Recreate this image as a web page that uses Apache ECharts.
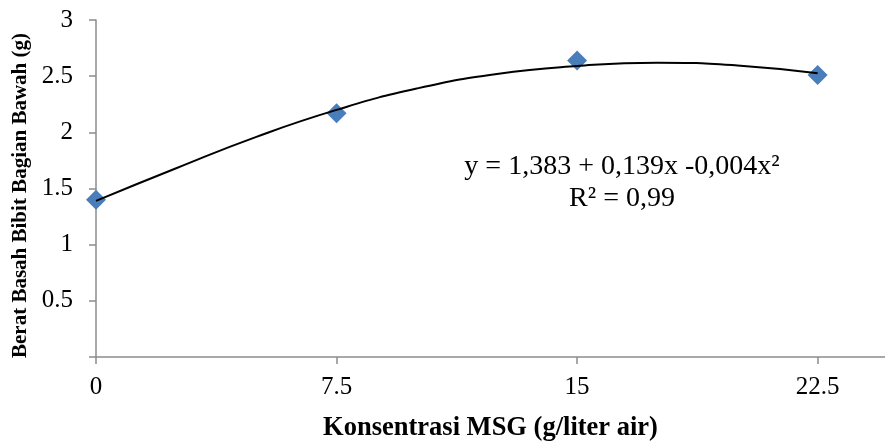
<!DOCTYPE html>
<html>
<head>
<meta charset="utf-8">
<script src="https://cdn.jsdelivr.net/npm/echarts@6/dist/echarts.min.js"></script>
<style>
  html, body { margin: 0; padding: 0; background: #fff; }
  #chart { width: 885px; height: 441px; }
</style>
</head>
<body>
<div id="chart"></div>
<script>
(function () {
    // observed data
    const konsentrasi = [0, 7.5, 15, 22.5];
    const beratBasah = [1.40, 2.17, 2.64, 2.51];

    // trendline
    const trendX = [0, 2.5, 5, 7.5, 10, 12.5, 15, 17.5, 20, 22.5];
    const trendY = [1.39, 1.68, 1.96, 2.20, 2.39, 2.52, 2.59, 2.62, 2.595, 2.525];

    const persamaan = 'y = 1,383 + 0,139x -0,004x²';
    const rKuadrat = 'R² = 0,99';

    const font = "'Liberation Serif', 'Times New Roman', serif";
    const axisGray = '#8c8c8c';

    let myChart = echarts.init(document.getElementById('chart'));

    let option = {
        animation: false,
        backgroundColor: '#fff',
        grid: { left: 96, right: 0, top: 20, bottom: 84, outerBoundsMode: 'none', containLabel: false },
        xAxis: {
            type: 'value',
            min: 0,
            max: 24.6,
            interval: 7.5,
            name: 'Konsentrasi MSG (g/liter air)',
            nameLocation: 'middle',
            nameGap: 58,
            nameTextStyle: { fontFamily: font, fontSize: 26.5, fontWeight: 'bold', color: '#000' },
            axisLine: { lineStyle: { color: axisGray, width: 1.5 } },
            axisTick: { show: true, length: 7, lineStyle: { color: axisGray, width: 1.5 } },
            axisLabel: { fontFamily: font, fontSize: 25, color: '#000', margin: 18, showMaxLabel: false },
            splitLine: { show: false }
        },
        yAxis: {
            type: 'value',
            min: 0,
            max: 3,
            interval: 0.5,
            name: 'Berat Basah Bibit Bagian Bawah (g)',
            nameLocation: 'middle',
            nameGap: 64,
            nameTextStyle: { fontFamily: font, fontSize: 21, fontWeight: 'bold', color: '#000', padding: [0, 14, 0, 0] },
            axisLine: { show: true, lineStyle: { color: axisGray, width: 1.5 } },
            axisTick: { show: true, length: 7, lineStyle: { color: axisGray, width: 1.5 } },
            axisLabel: {
                fontFamily: font, fontSize: 25, color: '#000', margin: 23,
                formatter(v) { return v === 0 ? '' : String(v); }
            },
            splitLine: { show: false }
        },
        series: [
            {
                type: 'scatter',
                data: konsentrasi.map((x, i) => [x, beratBasah[i]]),
                symbol: 'diamond',
                symbolSize: 20,
                itemStyle: { color: '#4a7ebb', opacity: 1 },
                z: 2
            },
            {
                type: 'line',
                data: trendX.map((x, i) => [x, trendY[i]]),
                smooth: true,
                showSymbol: false,
                lineStyle: { color: '#000', width: 2 },
                z: 3
            }
        ],
        graphic: [
            {
                type: 'text',
                x: 622, y: 167,
                style: { text: persamaan, font: '28px ' + font, fill: '#000', align: 'center', verticalAlign: 'middle' }
            },
            {
                type: 'text',
                x: 622, y: 199,
                style: { text: rKuadrat, font: '28px ' + font, fill: '#000', align: 'center', verticalAlign: 'middle' }
            }
        ]
    };

    myChart.setOption(option);
}());
</script>
</body>
</html>
